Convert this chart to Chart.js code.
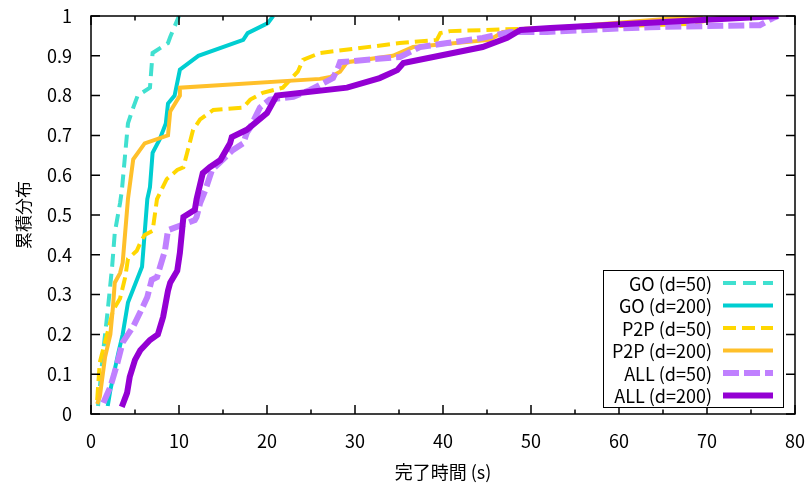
<!DOCTYPE html>
<html lang="ja">
<head>
<meta charset="UTF-8">
<title>完了時間の累積分布</title>
<script src="https://cdn.jsdelivr.net/npm/chart.js"></script>
<style>
  body { margin: 0; background: #fff; }
  #wrap { width: 808px; height: 489px; }
</style>
</head>
<body>
<div id="wrap"><canvas id="cdf"></canvas></div>
<script>
// completion time (s) / cumulative fraction for each run
const goD50X = [0.8, 1.4, 1.9, 2.4, 2.7, 3.3, 3.5, 4.2, 4.8, 5.3, 6.7, 7.0, 8.75, 9.0, 10.0];
const goD50Y = [0.02, 0.16, 0.26, 0.37, 0.455, 0.53, 0.56, 0.73, 0.77, 0.80, 0.82, 0.907, 0.932, 0.947, 1.0];

const goD200X = [1.9, 2.2, 3.1, 3.6, 4.2, 5.8, 6.4, 6.7, 7.0, 7.8, 8.5, 8.75, 9.5, 10.1, 12.2, 17.3, 17.8, 20.1, 20.7];
const goD200Y = [0.02, 0.06, 0.153, 0.20, 0.28, 0.37, 0.54, 0.57, 0.656, 0.69, 0.73, 0.78, 0.80, 0.865, 0.90, 0.94, 0.957, 0.982, 1.0];

const p2pD50X = [0.7, 1.0, 1.6, 2.5, 3.3, 3.9, 4.2, 5.2, 5.6, 6.1, 7.0, 7.5, 8.6, 9.8, 10.5, 11.6, 12.4, 13.9, 17.3, 18.1, 19.5, 21.8, 23.5, 24.1, 26.0, 35.1, 39.3, 39.7, 40.8, 52.2, 68.1, 72.6];
const p2pD50Y = [0.035, 0.13, 0.18, 0.26, 0.29, 0.345, 0.39, 0.41, 0.43, 0.45, 0.46, 0.54, 0.59, 0.613, 0.62, 0.714, 0.74, 0.764, 0.77, 0.79, 0.807, 0.82, 0.86, 0.89, 0.907, 0.932, 0.94, 0.957, 0.962, 0.97, 0.98, 1.0];

const p2pD200X = [0.7, 1.0, 1.6, 2.2, 2.5, 2.7, 3.3, 3.6, 4.2, 4.8, 6.1, 8.75, 9.0, 10.1, 10.1, 26.0, 27.2, 28.3, 29.1, 34.3, 36.6, 45.3, 46.8, 69.5];
const p2pD200Y = [0.025, 0.043, 0.143, 0.20, 0.27, 0.33, 0.354, 0.38, 0.54, 0.64, 0.68, 0.70, 0.76, 0.80, 0.82, 0.842, 0.847, 0.86, 0.884, 0.90, 0.922, 0.94, 0.96, 1.0];

const allD50X = [1.4, 2.2, 3.0, 3.6, 4.8, 5.9, 6.4, 6.9, 7.5, 8.4, 8.75, 11.8, 12.0, 12.4, 13.0, 13.75, 16.1, 17.3, 17.7, 18.1, 19.2, 20.3, 23.0, 24.9, 27.5, 28.1, 28.3, 31.4, 35.1, 37.4, 40.5, 44.5, 47.6, 51.8, 63.5, 76.0, 77.5, 78.1];
const allD50Y = [0.028, 0.068, 0.128, 0.18, 0.22, 0.27, 0.294, 0.337, 0.344, 0.41, 0.462, 0.487, 0.495, 0.53, 0.563, 0.613, 0.663, 0.68, 0.706, 0.72, 0.77, 0.79, 0.797, 0.814, 0.844, 0.872, 0.884, 0.89, 0.897, 0.922, 0.932, 0.945, 0.96, 0.96, 0.972, 0.977, 0.995, 1.0];

const allD200X = [3.5, 4.1, 4.4, 5.0, 5.6, 6.7, 7.6, 8.2, 8.75, 9.0, 9.8, 10.1, 10.5, 11.8, 12.0, 12.7, 13.5, 14.7, 15.8, 16.0, 17.7, 20.0, 21.1, 29.1, 32.8, 34.8, 35.5, 44.5, 47.3, 48.8, 52.2, 78.1];
const allD200Y = [0.018, 0.053, 0.093, 0.136, 0.16, 0.186, 0.20, 0.244, 0.31, 0.33, 0.36, 0.405, 0.495, 0.513, 0.54, 0.605, 0.62, 0.638, 0.68, 0.696, 0.714, 0.756, 0.80, 0.82, 0.844, 0.864, 0.882, 0.922, 0.945, 0.965, 0.97, 1.0];

const seriesLabels = ['GO (d=50)', 'GO (d=200)', 'P2P (d=50)', 'P2P (d=200)', 'ALL (d=50)', 'ALL (d=200)'];
const xTicks = [0, 10, 20, 30, 40, 50, 60, 70, 80];
const yTicks = [0, 0.1, 0.2, 0.3, 0.4, 0.5, 0.6, 0.7, 0.8, 0.9, 1];

const FONT = '"Noto Sans CJK JP", "Noto Sans", sans-serif';

function pts(xs, ys) {
  return xs.map((x, i) => ({ x: x, y: ys[i] }));
}

const styles = [
  { color: '#40e0d0', width: 4, dash: [13, 7] },
  { color: '#00ced1', width: 4, dash: [] },
  { color: '#ffd700', width: 4, dash: [13, 6] },
  { color: '#ffc02a', width: 4, dash: [] },
  { color: '#c080ff', width: 6, dash: [16, 5] },
  { color: '#9400d3', width: 6, dash: [] },
];
const xsAll = [goD50X, goD200X, p2pD50X, p2pD200X, allD50X, allD200X];
const ysAll = [goD50Y, goD200Y, p2pD50Y, p2pD200Y, allD50Y, allD200Y];

const datasets = seriesLabels.map((label, i) => ({
  label: label,
  data: pts(xsAll[i], ysAll[i]),
  borderColor: styles[i].color,
  backgroundColor: styles[i].color,
  borderWidth: styles[i].width,
  borderDash: styles[i].dash,
  pointRadius: 0,
  tension: 0,
  fill: false,
  order: seriesLabels.length - i, // later series on top
}));

// gnuplot-like frame: border with inward ticks on all four sides
const framePlugin = {
  id: 'frame',
  afterDatasetsDraw(chart) {
    const { ctx, chartArea: a, scales: { x, y } } = chart;
    ctx.save();
    ctx.strokeStyle = '#000';
    ctx.lineWidth = 1.5;
    for (let v = 0; v <= 80; v += 5) {
      const px = x.getPixelForValue(v);
      const len = v % 10 === 0 ? 9 : 4.5;
      ctx.beginPath();
      ctx.moveTo(px, a.bottom); ctx.lineTo(px, a.bottom - len);
      ctx.moveTo(px, a.top); ctx.lineTo(px, a.top + len);
      ctx.stroke();
    }
    yTicks.forEach(v => {
      const py = y.getPixelForValue(v);
      ctx.beginPath();
      ctx.moveTo(a.left, py); ctx.lineTo(a.left + 9, py);
      ctx.moveTo(a.right, py); ctx.lineTo(a.right - 9, py);
      ctx.stroke();
    });
    ctx.strokeRect(a.left, a.top, a.right - a.left, a.bottom - a.top);
    ctx.restore();
  }
};

// key box in the lower right, text right-aligned with the sample to its right
const keyPlugin = {
  id: 'key',
  afterDraw(chart) {
    const { ctx } = chart;
    const box = { l: 603, t: 270, r: 783, b: 407 };
    const rowH = 22.5;
    ctx.save();
    ctx.fillStyle = '#fff';
    ctx.fillRect(box.l, box.t, box.r - box.l, box.b - box.t);
    ctx.strokeStyle = '#000';
    ctx.lineWidth = 1;
    ctx.strokeRect(box.l + 0.5, box.t + 0.5, box.r - box.l, box.b - box.t);
    ctx.font = '18px ' + FONT;
    ctx.textAlign = 'right';
    ctx.textBaseline = 'middle';
    chart.data.datasets.forEach((ds, i) => {
      const cy = box.t + 13 + i * rowH;
      ctx.fillStyle = '#000';
      ctx.fillText(ds.label, 712, cy + 1);
      ctx.strokeStyle = ds.borderColor;
      ctx.lineWidth = ds.borderWidth;
      ctx.setLineDash(ds.borderDash);
      ctx.beginPath();
      ctx.moveTo(723, cy);
      ctx.lineTo(773, cy);
      ctx.stroke();
      ctx.setLineDash([]);
    });
    ctx.restore();
  }
};

new Chart(document.getElementById('cdf'), {
  type: 'line',
  data: { datasets: datasets },
  options: {
    responsive: true,
    maintainAspectRatio: false,
    animation: false,
    events: [],
    layout: { padding: { left: 0, right: 13, top: 16, bottom: 0 } },
    plugins: { legend: { display: false }, tooltip: { enabled: false } },
    scales: {
      x: {
        type: 'linear',
        min: 0, max: 80,
        afterFit(s) { s.height = 75; s.paddingLeft = 0; s.paddingRight = 0; },
        afterBuildTicks(s) { s.ticks = xTicks.map(v => ({ value: v })); },
        grid: { display: false },
        border: { display: false },
        ticks: { padding: 8, color: '#000', font: { family: FONT, size: 18 }, maxRotation: 0 },
        title: { display: true, text: '完了時間 (s)', color: '#000', font: { family: FONT, size: 18 }, padding: { top: 0, bottom: 6 } },
      },
      y: {
        type: 'linear',
        min: 0, max: 1,
        afterFit(s) { s.width = 91; s.paddingTop = 0; s.paddingBottom = 0; },
        afterBuildTicks(s) { s.ticks = yTicks.map(v => ({ value: v })); },
        grid: { display: false },
        border: { display: false },
        ticks: {
          padding: 11, color: '#000', font: { family: FONT, size: 18 },
          callback: v => String(Math.round(v * 10) / 10),
        },
        title: { display: true, text: '累積分布', color: '#000', font: { family: FONT, size: 17 }, padding: { top: 13, bottom: 0 } },
      },
    },
  },
  plugins: [framePlugin, keyPlugin],
});
</script>
</body>
</html>
